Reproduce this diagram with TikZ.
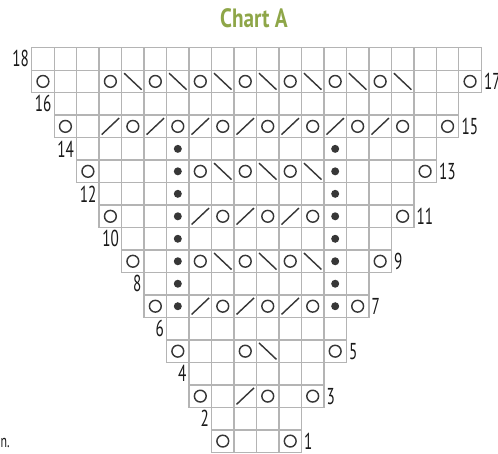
\documentclass[tikz,border=0pt]{standalone}
\usepackage{fontspec}
\newfontfamily\labfont{PT Sans}[FakeStretch=0.66]
\newfontfamily\titfont{PT Sans}[FakeStretch=0.8]
\definecolor{titlegreen}{RGB}{142,166,72}
\definecolor{gridcol}{RGB}{180,180,180}
\definecolor{symcol}{RGB}{55,55,55}
\definecolor{labcol}{RGB}{25,25,25}
\begin{document}
\begin{tikzpicture}[x=1pt,y=1pt,
  gridline/.style={draw=gridcol,line width=1.3pt},
  sym/.style={draw=symcol,line width=1.45pt},
  lab/.style={inner sep=0pt,text=labcol,font=\labfont\fontsize{23}{23}\selectfont},
  charttitle/.style={inner sep=0pt,text=titlegreen,font=\titfont\bfseries\fontsize{26.5}{26.5}\selectfont}]
\useasboundingbox (0,0) rectangle (498,453);
\clip (0,0) rectangle (498,453);
\def\cs{22.48}
\def\xo{31.7}
\def\yt{405.3}
% grid
\foreach \r in {1,...,18}{
  \pgfmathtruncatemacro\i{18-\r}
  \pgfmathtruncatemacro\k{\i/2}
  \pgfmathtruncatemacro\kk{19-\k}
  \foreach \c in {\k,...,\kk}{
    \draw[gridline] ({\xo+\c*\cs},{\yt-\i*\cs}) rectangle ++(\cs,-\cs);
  }
}
% yarn overs
\foreach \r/\c in {17/0,17/3,17/5,17/7,17/9,17/11,17/13,17/15,17/19,
  15/1,15/4,15/6,15/8,15/10,15/12,15/14,15/16,15/18,
  13/2,13/7,13/9,13/11,13/17,
  11/3,11/8,11/10,11/12,11/16,
  9/4,9/7,9/9,9/11,9/15,
  7/5,7/8,7/10,7/12,7/14,
  5/6,5/9,5/13,
  3/7,3/10,3/12,
  1/8,1/11}{
  \draw[sym] ({\xo+(\c+0.5)*\cs},{\yt-(18-\r+0.5)*\cs}) circle[radius=5.9];
}
% left-leaning decreases
\foreach \r/\c in {17/4,17/6,17/8,17/10,17/12,17/14,17/16,
  13/8,13/10,13/12, 9/8,9/10,9/12, 5/10}{
  \draw[sym] ({\xo+\c*\cs+2.5},{\yt-(18-\r)*\cs-3}) -- ++(17.5,-16.5);
}
% right-leaning decreases
\foreach \r/\c in {15/3,15/5,15/7,15/9,15/11,15/13,15/15,
  11/7,11/9,11/11, 7/7,7/9,7/11, 3/9}{
  \draw[sym] ({\xo+\c*\cs+2.5},{\yt-(19-\r)*\cs+3}) -- ++(17.5,16.5);
}
% purl dots
\foreach \r in {7,...,14}{
  \foreach \c in {6,13}{
    \fill[symcol] ({\xo+(\c+0.5)*\cs},{\yt-(18-\r+0.5)*\cs}) circle[radius=4];
  }
}
% row numbers
\foreach \r in {2,4,...,18}{
  \pgfmathtruncatemacro\k{(18-\r)/2}
  \node[lab,anchor=east] (l\r) at ({\xo+\k*\cs-2.5},{\yt-(18-\r+0.5)*\cs}) {\r};
}
\foreach \r in {1,3,...,17}{
  \pgfmathtruncatemacro\k{(18-\r)/2}
  \node[lab,anchor=west] (l\r) at ({\xo+(20-\k)*\cs+2.5},{\yt-(18-\r+0.5)*\cs}) {\r};
}
\node[charttitle,anchor=base] (title) at (254,425) {Chart A};
\node[lab,font=\labfont\fontsize{18}{18}\selectfont,anchor=base west] (frag) at (0.5,6) {n.};
\end{tikzpicture}
\end{document}
